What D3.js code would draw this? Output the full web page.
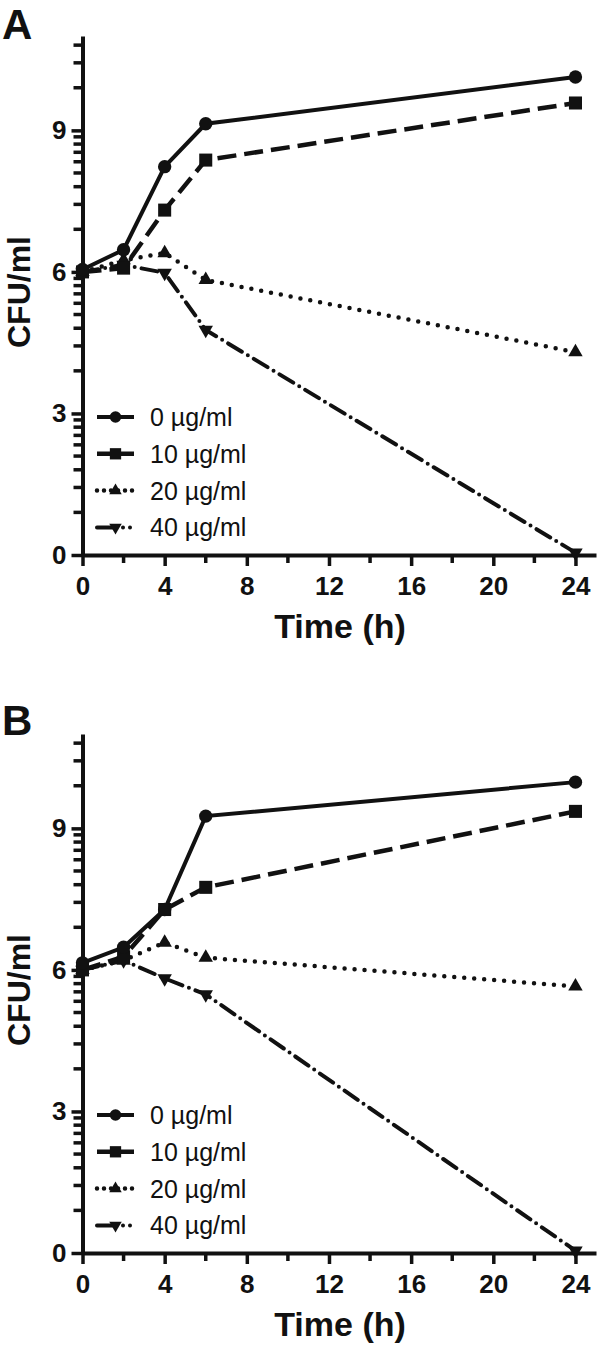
<!DOCTYPE html>
<html>
<head>
<meta charset="utf-8">
<script src="https://cdn.jsdelivr.net/npm/d3@7/dist/d3.min.js"></script>
<style>
  body { margin: 0; background: #fff; }
  text { font-family: Arial, "Liberation Sans", Helvetica, sans-serif; fill: #111; }
</style>
</head>
<body>
<svg id="chart" width="600" height="1348"></svg>
<script>
// time points (h)
const times = [0, 2, 4, 6, 24];
const seriesNames = ['0 µg/ml', '10 µg/ml', '20 µg/ml', '40 µg/ml'];

// panel A, CFU/ml (log)
const cfuA0  = [6.05, 6.47, 8.23, 9.14, 10.13];
const cfuA10 = [6.00, 6.08, 7.31, 8.37, 9.58];
const cfuA20 = [6.00, 6.25, 6.40, 5.83, 4.30];
const cfuA40 = [6.00, 6.15, 5.98, 4.77, 0.05];

// panel B
const cfuB0  = [6.15, 6.48, 7.28, 9.26, 9.98];
const cfuB10 = [6.00, 6.28, 7.28, 7.75, 9.36];
const cfuB20 = [6.00, 6.20, 6.58, 6.26, 5.65];
const cfuB40 = [6.00, 6.20, 5.82, 5.48, 0.05];

const xMajor = [0, 4, 8, 12, 16, 20, 24];
const xMinor = [2, 6, 10, 14, 18, 22];
const yMajor = [0, 3, 6, 9];

const panels = [
    { label: 'A', top: 0,   data: [cfuA0, cfuA10, cfuA20, cfuA40] },
    { label: 'B', top: 698, data: [cfuB0, cfuB10, cfuB20, cfuB40] }
];

// line / marker styling per series
const styles = [
    { dash: null,       legendDash: null,           width: 4,   cap: 'butt',  symbol: d3.symbolCircle,   size: 140, rot: 0 },
    { dash: '19 8',     legendDash: null,           width: 4.5, cap: 'butt',  symbol: d3.symbolSquare,   size: 170, rot: 0 },
    { dash: '0 10',     legendDash: '0 7',          width: 4.5, cap: 'round', symbol: d3.symbolTriangle, size: 90,  rot: 0 },
    { dash: '16 7 0 7', legendDash: '17 9 0 7 0 7', width: 4,   cap: 'round', symbol: d3.symbolTriangle, size: 90,  rot: 180 }
];

const svg = d3.select('#chart');

const x = d3.scaleLinear().domain([0, 25]).range([82.5, 596]);

panels.forEach(p => {
    const g = svg.append('g').attr('transform', `translate(0,${p.top})`);
    const y = d3.scaleLinear().domain([0, 11]).range([555, 36]);

    // minor y ticks, log-spaced between majors like the original
    const yMinor = [];
    yMajor.forEach(v => {
        d3.range(2, 10).forEach(k => {
            const t = v + 3 * Math.log10(k);
            if (t <= 11) yMinor.push(t);
        });
    });

    // axes
    g.append('g').attr('transform', 'translate(82.5,0)')
        .call(d3.axisLeft(y).tickValues(yMajor).tickSize(11).tickSizeOuter(0).tickPadding(5).tickFormat(d3.format('d')));
    g.append('g').attr('transform', 'translate(0,555)')
        .call(d3.axisBottom(x).tickValues(xMajor).tickSize(11).tickSizeOuter(0).tickPadding(11));

    g.selectAll('.domain').attr('stroke', '#111').attr('stroke-width', 4);
    g.selectAll('.tick line').attr('stroke', '#111').attr('stroke-width', 3.5);
    g.selectAll('.tick text').style('font-size', '26px').style('font-weight', 'bold').attr('fill', '#111');

    // minor ticks
    const minor = g.append('g').attr('class', 'minor');
    yMinor.forEach(v => {
        minor.append('line')
            .attr('x1', 73.5).attr('x2', 83)
            .attr('y1', y(v)).attr('y2', y(v))
            .style('stroke', '#111').style('stroke-width', '3.5px');
    });
    xMinor.forEach(v => {
        minor.append('line')
            .attr('x1', x(v)).attr('x2', x(v))
            .attr('y1', 554).attr('y2', 563)
            .style('stroke', '#111').style('stroke-width', '3.5px');
    });

    // axis titles
    g.append('text')
        .attr('x', 340).attr('y', 638)
        .attr('text-anchor', 'middle')
        .style('font-size', '34px').style('font-weight', 'bold')
        .text('Time (h)');
    g.append('text')
        .attr('transform', 'translate(30,292) rotate(-90)')
        .attr('text-anchor', 'middle')
        .style('font-size', '32px').style('font-weight', 'bold')
        .text('CFU/ml');

    // panel letter
    g.append('text')
        .attr('x', 2).attr('y', p.label === 'A' ? 39 : 37)
        .style('font-size', '42px').style('font-weight', 'bold')
        .text(p.label);

    const line = d3.line().x((d, i) => x(times[i])).y(d => y(d));

    // draw 40 first so the others sit on top
    [3, 2, 1, 0].forEach(si => {
        const st = styles[si];
        const vals = p.data[si];
        g.append('path')
            .datum(vals)
            .attr('d', line)
            .attr('fill', 'none')
            .attr('stroke', '#111')
            .attr('stroke-width', st.width)
            .attr('stroke-linecap', st.cap)
            .attr('stroke-dasharray', st.dash);
        g.selectAll(null)
            .data(vals)
            .enter().append('path')
            .attr('d', d3.symbol().type(st.symbol).size(st.size))
            .attr('transform', (d, i) => `translate(${x(times[i])},${y(d)}) rotate(${st.rot})`)
            .attr('fill', '#111');
    });

    // legend
    const leg = g.append('g');
    seriesNames.forEach((name, i) => {
        const st = styles[i];
        const cy = 417 + i * 36.8;
        leg.append('line')
            .attr('x1', 97).attr('x2', 134).attr('y1', cy).attr('y2', cy)
            .attr('stroke', '#111')
            .attr('stroke-width', st.width)
            .attr('stroke-linecap', st.cap)
            .attr('stroke-dasharray', st.legendDash);
        leg.append('path')
            .attr('d', d3.symbol().type(st.symbol).size(st.size * 0.75))
            .attr('transform', `translate(115.5,${cy}) rotate(${st.rot})`)
            .attr('fill', '#111');
        leg.append('text')
            .attr('x', 150).attr('y', cy + 9)
            .style('font-size', '25px')
            .text(name);
    });
});
</script>
</body>
</html>
